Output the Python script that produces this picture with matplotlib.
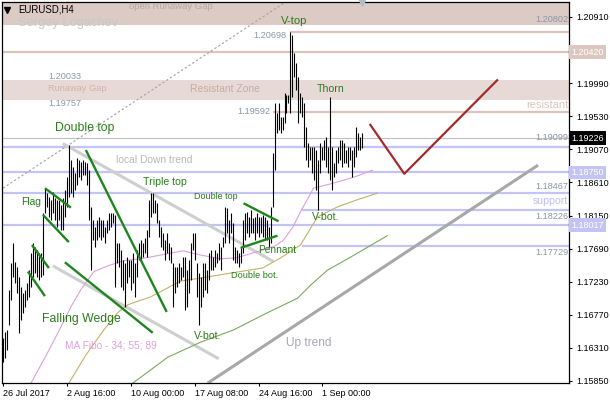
import matplotlib
matplotlib.use("Agg")
import matplotlib.pyplot as plt

plt.rcParams['font.family'] = ['Liberation Sans', 'DejaVu Sans']

# ---------------- data ----------------
highs = [
    1.1645, 1.1653, 1.1656, 1.1712, 1.1749, 1.1777, 1.1750, 1.1743, 1.1730, 1.1716,
    1.1707, 1.1712, 1.1721, 1.1739, 1.1763, 1.1777, 1.1771, 1.1767, 1.1763, 1.1763,
    1.1819, 1.1853, 1.1846, 1.1841, 1.1837, 1.1848, 1.1839, 1.1837, 1.1837, 1.1830,
    1.1839, 1.1851, 1.1869, 1.1913, 1.1892, 1.1882, 1.1874, 1.1895, 1.1892, 1.1889,
    1.1892, 1.1889, 1.1888, 1.1878, 1.1827, 1.1809, 1.1799, 1.1809, 1.1813, 1.1809,
    1.1809, 1.1799, 1.1809, 1.1819, 1.1819, 1.1819, 1.1816, 1.1777, 1.1777, 1.1767,
    1.1753, 1.1749, 1.1757, 1.1753, 1.1753, 1.1763, 1.1749, 1.1767, 1.1777, 1.1781,
    1.1777, 1.1784, 1.1795, 1.1837, 1.1846, 1.1846, 1.1837, 1.1832, 1.1809, 1.1799,
    1.1791, 1.1781, 1.1791, 1.1777, 1.1771, 1.1749, 1.1743, 1.1743, 1.1749, 1.1743,
    1.1757, 1.1757, 1.1739, 1.1753, 1.1777, 1.1791, 1.1791, 1.1749, 1.1735, 1.1730,
    1.1749, 1.1749, 1.1739, 1.1763, 1.1767, 1.1757, 1.1767, 1.1763, 1.1777, 1.1771,
    1.1785, 1.1827, 1.1826, 1.1809, 1.1819, 1.1805, 1.1771, 1.1767, 1.1763, 1.1771,
    1.1809, 1.1819, 1.1820, 1.1813, 1.1823, 1.1812, 1.1813, 1.1819, 1.1813, 1.1813,
    1.1816, 1.1813, 1.1809, 1.1799, 1.1827, 1.1902, 1.1971, 1.1958, 1.1971, 1.1952,
    1.1952, 1.1985, 1.1983, 1.1983, 1.2070, 1.2066, 1.2041, 1.2027, 1.2008, 1.1985,
    1.1980, 1.1971, 1.1938, 1.1916, 1.1910, 1.1910, 1.1910, 1.1906, 1.1892, 1.1916,
    1.1910, 1.1920, 1.1924, 1.1910, 1.1980, 1.1910, 1.1888, 1.1906, 1.1910, 1.1920,
    1.1920, 1.1916, 1.1906, 1.1910, 1.1910, 1.1906, 1.1910, 1.1938, 1.1930, 1.1924,
    1.1930,
]
lows = [
    1.1611, 1.1617, 1.1628, 1.1663, 1.1698, 1.1730, 1.1721, 1.1707, 1.1652, 1.1670,
    1.1680, 1.1688, 1.1698, 1.1702, 1.1716, 1.1730, 1.1735, 1.1730, 1.1725, 1.1730,
    1.1732, 1.1819, 1.1827, 1.1813, 1.1809, 1.1819, 1.1809, 1.1799, 1.1809, 1.1795,
    1.1795, 1.1813, 1.1827, 1.1841, 1.1846, 1.1841, 1.1851, 1.1857, 1.1869, 1.1864,
    1.1871, 1.1871, 1.1857, 1.1809, 1.1739, 1.1781, 1.1771, 1.1781, 1.1785, 1.1781,
    1.1785, 1.1777, 1.1791, 1.1795, 1.1799, 1.1805, 1.1716, 1.1749, 1.1743, 1.1716,
    1.1712, 1.1688, 1.1721, 1.1730, 1.1712, 1.1721, 1.1702, 1.1730, 1.1753, 1.1753,
    1.1757, 1.1763, 1.1757, 1.1785, 1.1813, 1.1819, 1.1819, 1.1805, 1.1785, 1.1771,
    1.1767, 1.1753, 1.1763, 1.1753, 1.1749, 1.1688, 1.1707, 1.1716, 1.1721, 1.1725,
    1.1730, 1.1684, 1.1688, 1.1707, 1.1725, 1.1767, 1.1753, 1.1702, 1.1663, 1.1688,
    1.1702, 1.1712, 1.1707, 1.1725, 1.1739, 1.1739, 1.1743, 1.1749, 1.1753, 1.1739,
    1.1771, 1.1777, 1.1791, 1.1777, 1.1791, 1.1753, 1.1749, 1.1749, 1.1743, 1.1749,
    1.1763, 1.1781, 1.1791, 1.1785, 1.1791, 1.1791, 1.1781, 1.1791, 1.1785, 1.1791,
    1.1785, 1.1781, 1.1781, 1.1771, 1.1777, 1.1827, 1.1878, 1.1930, 1.1934, 1.1930,
    1.1934, 1.1944, 1.1958, 1.1971, 1.1958, 1.1980, 1.2008, 1.1990, 1.1944, 1.1958,
    1.1952, 1.1910, 1.1892, 1.1882, 1.1892, 1.1874, 1.1864, 1.1851, 1.1823, 1.1874,
    1.1892, 1.1892, 1.1882, 1.1874, 1.1864, 1.1851, 1.1869, 1.1874, 1.1888, 1.1892,
    1.1882, 1.1888, 1.1888, 1.1882, 1.1892, 1.1869, 1.1882, 1.1896, 1.1906, 1.1906,
    1.1909,
]

time_labels = ['26 Jul 2017', '2 Aug 16:00', '10 Aug 00:00', '17 Aug 08:00',
               '24 Aug 16:00', '1 Sep 00:00']
time_label_bars = [0, 32, 64, 96, 128, 160]

price_ticks = [1.15850, 1.16310, 1.16770, 1.17230, 1.17690, 1.18150,
               1.18610, 1.19070, 1.19530, 1.19990, 1.20450, 1.20910]
hidden_tick = 1.20450

# moving averages (MA Fibo 34; 55; 89)
ma34_bars = [14, 21.5, 29, 34, 39, 45.5, 52.5, 60, 69, 79, 90, 99, 109, 116.5, 124,
             130, 136.5, 140.5, 145, 149, 155.5, 165.5, 176.5, 185]
ma34_vals = [1.1582, 1.1620, 1.1660, 1.1688, 1.1712, 1.1737, 1.1745, 1.1752, 1.1755,
             1.1760, 1.1766, 1.1760, 1.1755, 1.1756, 1.1762, 1.1767, 1.1773, 1.1781,
             1.1798, 1.1820, 1.1853, 1.1860, 1.1869, 1.1878]
ma55_bars = [33, 41.5, 50.5, 57.5, 62.5, 74, 89, 99, 114, 130, 139, 149, 157.5,
             167.5, 177.5, 187.5]
ma55_vals = [1.1582, 1.1621, 1.1656, 1.1680, 1.1691, 1.1702, 1.1724, 1.1728, 1.1735,
             1.1742, 1.1756, 1.1774, 1.1813, 1.1827, 1.1837, 1.1846]
ma89_bars = [65, 82.5, 99, 115.5, 132.5, 147.5, 154, 162.5, 174, 192.5]
ma89_vals = [1.1582, 1.1618, 1.1639, 1.1656, 1.1680, 1.1700, 1.1718, 1.1739, 1.1757,
             1.1787]

# zones and levels
top_zone = (1.20802, 1.2140)
resistant_zone = (1.19757, 1.20033)
pink_levels = [1.20698, 1.20420, 1.19592]
pink_level_start = [144, -0.5, 135]
blue_levels = [1.19099, 1.18750, 1.18467, 1.18226, 1.18017, 1.17729]
blue_level_start = [-0.5, -0.5, -0.5, 150, -0.5, 150]
bid_price = 1.19226

# trend / pattern lines  (bar, price) pairs
channel_dashed = [(0, 1.1853), (140.5, 1.2110)]
local_down_upper = [(30, 1.1915), (135.5, 1.1751)]
local_down_lower = [(25, 1.1745), (108, 1.1616)]
up_trend = [(102.5, 1.1582), (268, 1.1885)]
forecast_bars = [184, 201, 247.5]
forecast_vals = [1.1941, 1.1873, 1.2003]
pattern_lines = [
    [(21, 1.1853), (34, 1.1826)],      # flag upper
    [(20, 1.1816), (33, 1.1778)],      # flag lower
    [(14.5, 1.1774), (23, 1.1742)],
    [(12.5, 1.1737), (21, 1.1703)],
    [(41.5, 1.1906), (82, 1.1681)],    # wedge upper
    [(31, 1.1750), (75, 1.1652)],      # wedge lower
    [(120.5, 1.1832), (138, 1.1807)],  # pennant upper
    [(119, 1.1770), (137.5, 1.1787)],  # pennant lower
]

GREEN = '#2a7d1a'
NUM = '#8a96a8'
# text labels: (bar, price, text, colour, size)
labels = [
    (63, 1.2106, 'open Runaway Gap', '#b4a8a6', 6.8),
    (7.5, 1.2083, 'Sergey Logachev', '#c8c8c8', 9.3),
    (7.5, 1.2101, 'EURUSD,H4', 'black', 6.9),
    (139, 1.2085, 'V-top', GREEN, 8.1),
    (125.5, 1.2065, '1.20698', NUM, 6.6),
    (22.5, 1.2008, '1.20033', NUM, 6.6),
    (22.5, 1.1991, 'Runaway Gap', '#d2b2aa', 6.7),
    (93.5, 1.1991, 'Resistant Zone', '#c8aca4', 7.5),
    (22.5, 1.1971, '1.19757', NUM, 6.6),
    (117.5, 1.1959, '1.19592', NUM, 6.6),
    (157, 1.1991, 'Thorn', GREEN, 7.6),
    (26, 1.1937, 'Double top', GREEN, 8.8),
    (56.5, 1.1892, 'local Down trend', '#b8b8b8', 7.4),
    (70, 1.1862, 'Triple top', GREEN, 7.6),
    (9, 1.1834, 'Flag', GREEN, 7.4),
    (95.5, 1.1841, 'Double top', GREEN, 6.5),
    (155, 1.1813, 'V-bot.', GREEN, 7.6),
    (128, 1.1767, 'Pennant', GREEN, 7.3),
    (114, 1.1732, 'Double bot.', GREEN, 6.6),
    (19.5, 1.1671, 'Falling Wedge', GREEN, 8.8),
    (31, 1.1634, 'MA Fibo - 34; 55; 89', '#dda0dd', 7.3),
    (95.5, 1.1648, 'V-bot.', GREEN, 7.6),
    (142, 1.1638, 'Up trend', '#a8a8b8', 8.6),
]
# right-aligned labels at right edge
right_labels = [
    (1.2088, '1.20802', NUM, 6.6),
    (1.1969, 'resistant', '#dcc4bc', 8.0),
    (1.1923, '1.19099', NUM, 6.6),
    (1.1855, '1.18467', NUM, 6.6),
    (1.1835, 'support', '#b8c0f0', 7.6),
    (1.1814, '1.18226', NUM, 6.6),
    (1.1764, '1.17729', NUM, 6.6),
]
# boxed price labels on the scale
box_labels = [
    (1.20420, '1.20420', '#dcc8c0'),
    (1.19226, '1.19226', '#000000'),
    (1.18750, '1.18750', '#c3c3f5'),
    (1.18017, '1.18017', '#c3c3f5'),
]

# ---------------- figure ----------------
fig = plt.figure(figsize=(6.1, 4.0), dpi=100, facecolor='white')
ax = fig.add_axes([2 / 610, 17 / 400, 567 / 610, 381 / 400])
ax.set_xlim(-0.5, 283.5)
ax.set_ylim(1.15822, 1.21118)
xmax = 283.5

ax.axhspan(top_zone[0], top_zone[1], color='#dccbc5', lw=0, zorder=0)
ax.axhspan(resistant_zone[0], resistant_zone[1], color='#e7dad6', lw=0, zorder=0)
for lvl, st in zip(pink_levels, pink_level_start):
    ax.hlines(lvl, st, xmax, color='#dcc2ba', lw=1.6, zorder=1)
for lvl, st in zip(blue_levels, blue_level_start):
    ax.hlines(lvl, st, xmax, color='#c3c3f5', lw=1.6, zorder=1)
ax.axhline(bid_price, color='#c0c0c0', lw=0.8, zorder=1)

# trend lines
(x0, y0), (x1, y1) = channel_dashed
ax.plot([x0, x1], [y0, y1], color='#a0a0a0', lw=0.8, ls=(0, (2, 2)), zorder=2)
for seg, col in [(local_down_upper, '#cfcfcf'), (local_down_lower, '#cfcfcf'),
                 (up_trend, '#a8a8a8')]:
    (x0, y0), (x1, y1) = seg
    ax.plot([x0, x1], [y0, y1], color=col, lw=2.2, solid_capstyle='butt', zorder=2)

# moving averages
ax.plot(ma34_bars, ma34_vals, color='#dda0dd', lw=0.8, zorder=2)
ax.plot(ma55_bars, ma55_vals, color='#c2b268', lw=0.8, zorder=2)
ax.plot(ma89_bars, ma89_vals, color='#7aaa5c', lw=0.8, zorder=2)

# price bars
bar_idx = list(range(len(highs)))
ax.vlines(bar_idx, lows, highs, color='black', lw=0.8, zorder=3)

# pattern lines
for seg in pattern_lines:
    (x0, y0), (x1, y1) = seg
    ax.plot([x0, x1], [y0, y1], color='#1d861d', lw=1.7, solid_capstyle='butt', zorder=4)

# forecast
ax.plot(forecast_bars, forecast_vals, color='#a52a2a', lw=1.6, zorder=4)

# texts
for bx, py, txt, col, sz in labels:
    ax.text(bx, py, txt, color=col, fontsize=sz, ha='left', va='center', zorder=5)
for py, txt, col, sz in right_labels:
    ax.text(xmax - 0.5, py, txt, color=col, fontsize=sz, ha='right', va='center', zorder=5)
ax.plot([2], [1.2101], marker='v', color='black', markersize=4, zorder=5)
ax.plot([180], [1.2110], marker='v', color='#b0bcc8', markersize=5, zorder=5, clip_on=False)

# axes styling
for sp in ax.spines.values():
    sp.set_color('black')
    sp.set_linewidth(0.9)
ax.yaxis.tick_right()
ax.set_yticks(price_ticks)
ax.set_yticklabels(['' if abs(t - hidden_tick) < 1e-9 else '%.5f' % t for t in price_ticks])
ax.set_xticks(time_label_bars)
ax.set_xticklabels(time_labels)
for lbl in ax.get_xticklabels():
    lbl.set_horizontalalignment('left')
ax.tick_params(axis='y', direction='out', length=2.5, width=0.8, pad=2.5, labelsize=6.5)
ax.tick_params(axis='x', direction='out', length=2.5, width=0.8, pad=2, labelsize=6.5)

ytr = ax.get_yaxis_transform()
for py, txt, col in box_labels:
    ax.text(1.0045, py, txt, transform=ytr, color='white', fontsize=6.5, ha='left',
            va='center', zorder=6, clip_on=False,
            bbox=dict(boxstyle='square,pad=0.25', fc=col, ec='none'))

fig.savefig('out.png', dpi=100, facecolor='white')
